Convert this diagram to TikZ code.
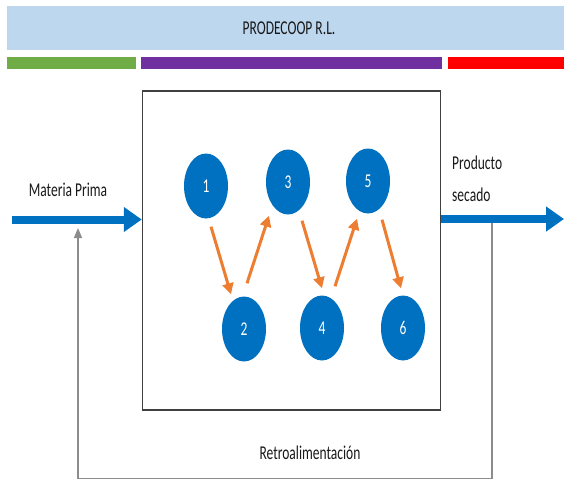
\documentclass[tikz,border=0pt]{standalone}
\usepackage{fontspec}
\usepackage{graphicx}
\setmainfont{Carlito}
\usetikzlibrary{shapes.geometric,arrows.meta,calc}
\definecolor{banner}{HTML}{BDD7EE}
\definecolor{bgreen}{HTML}{70AD47}
\definecolor{bpurple}{HTML}{7030A0}
\definecolor{bred}{HTML}{FF0000}
\definecolor{pblue}{HTML}{0070C0}
\definecolor{porange}{HTML}{ED7D31}
\definecolor{fbgray}{HTML}{8C8C8C}
\definecolor{boxgray}{HTML}{404040}
\newcommand{\tallTxt}[1]{\scalebox{1}[1.45]{#1}}
\tikzset{
  lbl/.style={font=\fontsize{13.5}{16}\selectfont, text=black!90, inner sep=0pt},
  stage/.style={ellipse, fill=pblue, draw=none, minimum width=44pt, minimum height=65pt, inner sep=0pt, text=white, font=\fontsize{13.5}{16}\selectfont},
  oarr/.style={draw=porange, line width=3pt, -{Triangle[length=11pt,width=11pt]}},
  barr/.style={draw=pblue, line width=8pt, -{Triangle[length=18pt,width=24pt]}},
  fb/.style={draw=fbgray, line width=1.5pt, -{Triangle[length=10pt,width=8pt]}}
}
\begin{document}
\begin{tikzpicture}[x=1pt,y=-1pt]
\useasboundingbox (0,0) rectangle (564,480);
% banner and bars
\node[fill=banner, minimum width=557pt, minimum height=44pt, inner sep=0pt] (title) at (285.5,28) {};
\node[lbl] (titletxt) at (289,28) {\tallTxt{PRODECOOP R.L.}};
\fill[bgreen] (7,57) rectangle (136,69);
\fill[bpurple] (141,57) rectangle (442,69);
\fill[bred] (448,57) rectangle (564,69);
% process box
\node[draw=boxgray, line width=1.5pt, minimum width=298pt, minimum height=319pt, inner sep=0pt] (box) at (291.5,250.5) {};
% stages
\node[stage] (n1) at (206,186) {\tallTxt{1}};
\node[stage] (n2) at (244,329) {\tallTxt{2}};
\node[stage] (n3) at (288,182) {\tallTxt{3}};
\node[stage] (n4) at (322,328) {\tallTxt{4}};
\node[stage] (n5) at (368,181) {\tallTxt{5}};
\node[stage] (n6) at (403,328) {\tallTxt{6}};
\draw[oarr] ([xshift=5pt,yshift=-8pt]n1.south) -- ([xshift=-13pt,yshift=2pt]n2.north);
\draw[oarr] ([xshift=3pt,yshift=13pt]n2.north) -- ([xshift=-19pt,yshift=-1pt]n3.south);
\draw[oarr] ([xshift=14pt,yshift=-6pt]n3.south) -- ([xshift=0pt,yshift=7pt]n4.north);
\draw[oarr] ([xshift=13pt,yshift=9pt]n4.north) -- ([xshift=-11pt,yshift=-5pt]n5.south);
\draw[oarr] ([xshift=14pt,yshift=-6pt]n5.south) -- ([xshift=-2pt,yshift=7pt]n6.north);
% input / output
\coordinate (inS) at (12,219.5);
\coordinate (outE) at (564,219);
\node[lbl] (mp) at (68,190) {\tallTxt{Materia Prima}};
\node[lbl, anchor=west, align=left, font=\fontsize{13.5}{32}\selectfont] (ps) at (452,179) {\tallTxt{Producto}\\\tallTxt{secado}};
% feedback
\coordinate (fbR) at (492,223);
\coordinate (fbB) at (78,478.5);
\coordinate (fbT) at (78,228);
\draw[fb] (fbR) |- (fbB) -- (fbT);
\node[lbl] (retro) at (310,453) {\tallTxt{Retroalimentación}};
\draw[barr] (inS) -- (inS -| box.west);
\draw[barr] (outE -| box.east) -- (outE);
\end{tikzpicture}
\end{document}
